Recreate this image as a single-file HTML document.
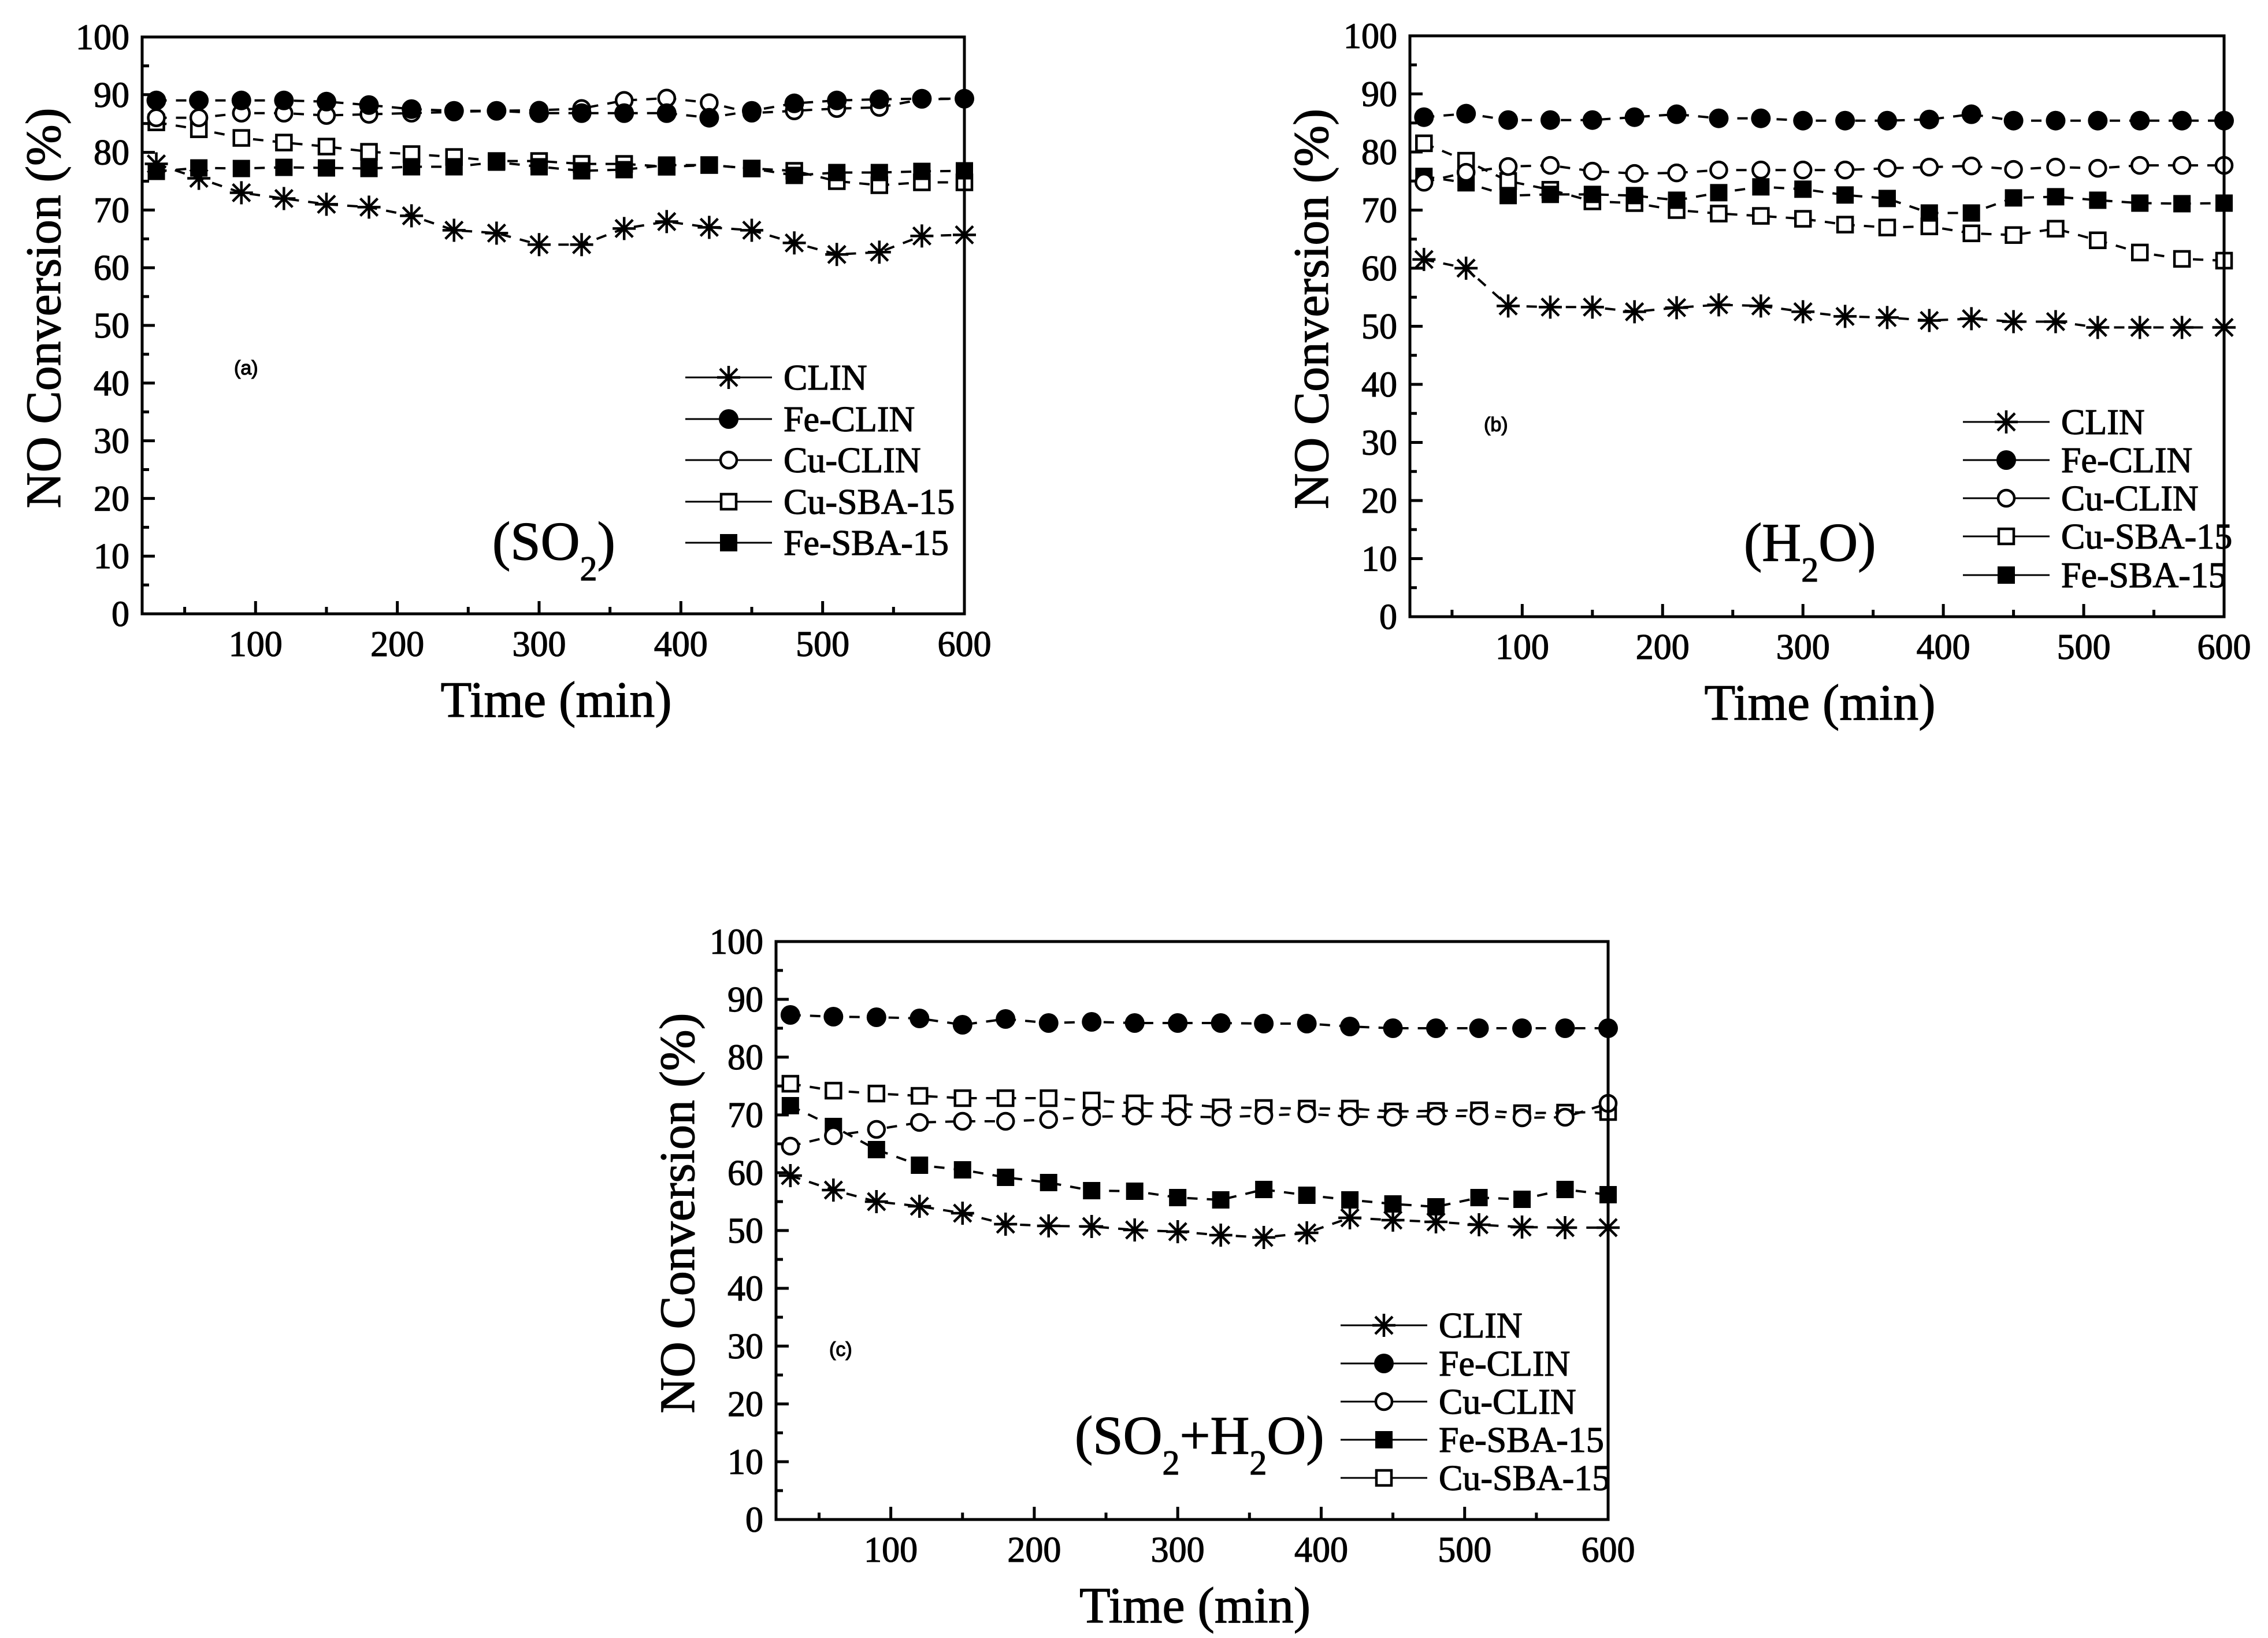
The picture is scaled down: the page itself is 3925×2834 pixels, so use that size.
<!DOCTYPE html>
<html><head><meta charset="utf-8"><style>
html,body{margin:0;padding:0;background:#fff;}
svg{display:block;font-family:"Liberation Serif",serif;}
svg text{stroke:#000;stroke-width:1.2px;}
</style></head><body>
<svg id="fig" xmlns="http://www.w3.org/2000/svg" width="3925" height="2834" viewBox="0 0 3925 2834">
<rect width="3925" height="2834" fill="#fff"/>
</svg>
<script>
const times = [30,60,90,120,150,180,210,240,270,300,330,360,390,420,450,480,510,540,570,600];
const yTicks = [0,10,20,30,40,50,60,70,80,90,100];
const xTicks = [100,200,300,400,500,600];

const aCLIN   = [78,75.5,73,72,71,70.5,69,66.5,66,64,64,66.8,68,67,66.5,64.3,62.3,62.7,65.5,65.7];
const aFeCLIN = [89,89,89,89,88.8,88.2,87.5,87.2,87.2,86.8,86.8,86.8,86.8,86,87.2,88.5,89,89.2,89.3,89.3];
const aCuCLIN = [86,86,86.8,86.8,86.4,86.6,86.8,87,87.2,87.3,87.6,89,89.4,88.6,86.8,87.2,87.6,87.8,89.2,89.3];
const aCuSBA  = [85.2,84,82.5,81.7,81,80.1,79.7,79.2,78.5,78.5,78,78,77.5,77.8,77.2,76.8,75,74.3,74.8,74.8];
const aFeSBA  = [76.7,77.3,77.2,77.4,77.3,77.2,77.5,77.5,78.3,77.5,76.8,77,77.8,77.8,77.2,76,76.5,76.5,76.7,76.8];

const bCLIN   = [61.5,60,53.5,53.3,53.3,52.5,53.2,53.7,53.5,52.5,51.7,51.5,51,51.3,50.8,50.8,49.8,49.8,49.8,49.8];
const bFeCLIN = [86,86.6,85.5,85.5,85.5,86,86.5,85.8,85.8,85.4,85.4,85.4,85.6,86.5,85.4,85.4,85.4,85.4,85.4,85.4];
const bCuCLIN = [74.8,76.5,77.5,77.7,76.7,76.3,76.4,76.9,76.9,76.9,76.9,77.2,77.4,77.6,77,77.4,77.2,77.7,77.7,77.7];
const bCuSBA  = [81.5,78.5,75,73.5,71.5,71.2,70,69.4,69,68.5,67.5,67,67.2,66,65.7,66.8,64.8,62.7,61.6,61.3];
const bFeSBA  = [75.8,74.7,72.5,72.7,72.7,72.5,71.7,73,74,73.6,72.6,72,69.5,69.5,72.1,72.3,71.7,71.2,71.1,71.2];

const cCLIN   = [59.5,57,55,54.2,53,51.1,50.8,50.7,50.1,49.8,49.2,48.8,49.6,52.2,51.8,51.5,51,50.6,50.5,50.5];
const cFeCLIN = [87.3,87,86.9,86.7,85.6,86.6,85.9,86.1,85.9,85.9,85.9,85.8,85.8,85.3,85,85,85,85,85,85];
const cCuCLIN = [64.6,66.4,67.5,68.7,68.9,68.9,69.2,69.7,69.8,69.7,69.6,69.9,70.2,69.7,69.6,69.8,69.8,69.5,69.6,72];
const cFeSBA  = [71.6,68,64,61.3,60.5,59.2,58.3,56.9,56.8,55.7,55.3,57.1,56.1,55.3,54.6,54.1,55.7,55.4,57.1,56.2];
const cCuSBA  = [75.4,74.2,73.7,73.3,72.9,72.9,72.9,72.5,72,72,71.3,71.2,71.1,71.1,70.6,70.7,70.8,70.3,70.4,70.5];

const NS = "http://www.w3.org/2000/svg";
const svg = document.getElementById('fig');
function mk(tag, attrs, parent){
  const e = document.createElementNS(NS, tag);
  for (const k in attrs) e.setAttribute(k, attrs[k]);
  (parent||svg).appendChild(e);
  return e;
}
function marker(g, type, cx, cy){
  let e;
  if (type==='star'){
    e = mk('path',{d:`M${cx-20},${cy}H${cx+20}M${cx},${cy-20}V${cy+20}M${cx-15},${cy-15}L${cx+15},${cy+15}M${cx-15},${cy+15}L${cx+15},${cy-15}`,stroke:'#000','stroke-width':4.5,fill:'none'},g);
  } else if (type==='fcircle'){
    e = mk('circle',{cx:cx,cy:cy,r:17,fill:'#000'},g);
  } else if (type==='ocircle'){
    e = mk('circle',{cx:cx,cy:cy,r:14,fill:'#fff',stroke:'#000','stroke-width':4.5},g);
  } else if (type==='osquare'){
    e = mk('rect',{x:cx-13,y:cy-13,width:26,height:26,fill:'#fff',stroke:'#000','stroke-width':4.5},g);
  } else {
    e = mk('rect',{x:cx-15,y:cy-15,width:30,height:30,fill:'#000'},g);
  }
  return e;
}

function panel(p){
  const g = mk('g',{});
  
  
  const xs = v => p.L + (v-20)/(600-20)*(p.R-p.L);
  const ys = v => p.B - v/100*(p.B-p.T);
  p.series.forEach(s=>{
    const sg = mk('g',{},g);
    
    
    const d = times.map((t,i)=>(i?'L':'M')+xs(t).toFixed(1)+','+ys(s.vals[i]).toFixed(1)).join('');
    const ln = mk('path',{d:d,fill:'none',stroke:'#000','stroke-width':4,'stroke-dasharray':'18 16'},sg);
    
    
    times.forEach((t,i)=>{
      const m = marker(sg, s.type, xs(t), ys(s.vals[i]));
      
      
    });
  });
  const fr = mk('rect',{x:p.L,y:p.T,width:p.R-p.L,height:p.B-p.T,fill:'none',stroke:'#000','stroke-width':5},g);
  
  
  for (let v=5; v<100; v+=5){
    const len = (v%10===0)?22:12;
    mk('line',{x1:p.L,x2:p.L+len,y1:ys(v),y2:ys(v),stroke:'#000','stroke-width':5},g);
  }
  yTicks.forEach(v=>{
    const t = mk('text',{x:p.L-22,y:ys(v)+21,'font-size':62,'text-anchor':'end'},g);
    t.textContent = v;
    
    
  });
  for (let v=50; v<600; v+=50){
    const len = (v%100===0)?22:12;
    mk('line',{x1:xs(v),x2:xs(v),y1:p.B,y2:p.B-len,stroke:'#000','stroke-width':5},g);
  }
  xTicks.forEach(v=>{
    const t = mk('text',{x:xs(v),y:p.B+73,'font-size':62,'text-anchor':'middle'},g);
    t.textContent = v;
    
    
  });
  const xt = mk('text',{x:(p.L+p.R)/2+5,y:p.B+178,'font-size':88,'text-anchor':'middle'},g);
  xt.textContent = 'Time (min)';
  
  
  const yc = (p.T+p.B)/2-30;
  const yt = mk('text',{x:0,y:0,'font-size':86,'text-anchor':'middle',transform:`translate(${p.L-142},${yc}) rotate(-90)`},g);
  yt.textContent = 'NO Conversion (%)';
  
  
  const lg = mk('g',{},g);
  
  
  p.legend.forEach((s,i)=>{
    const y = p.legY[i];
    const eg = mk('g',{},lg);
    
    
    mk('line',{x1:p.legX,x2:p.legX+150,y1:y,y2:y,stroke:'#000','stroke-width':3},eg);
    marker(eg, s.type, p.legX+75, y);
    const t = mk('text',{x:p.legX+170,y:y+21,'font-size':62},eg);
    t.textContent = s.label;
  });
  const cl = mk('text',{x:p.condX,y:p.condY,'font-size':94},g);
  
  
  p.cond.forEach(part=>{
    const ts = mk('tspan',{},cl);
    if (part.sub){ ts.setAttribute('font-size',60); ts.setAttribute('dy',36); }
    else if (part.after){ ts.setAttribute('dy',-36); }
    ts.textContent = part.t;
  });
  const pl = mk('text',{x:p.tagX,y:p.tagY,'font-size':34,'font-family':'Liberation Sans, sans-serif','stroke-width':0},g);
  pl.textContent = p.tag;
  
  
}

const legA = [{label:'CLIN',type:'star'},{label:'Fe-CLIN',type:'fcircle'},{label:'Cu-CLIN',type:'ocircle'},{label:'Cu-SBA-15',type:'osquare'},{label:'Fe-SBA-15',type:'fsquare'}];
const legC = [{label:'CLIN',type:'star'},{label:'Fe-CLIN',type:'fcircle'},{label:'Cu-CLIN',type:'ocircle'},{label:'Fe-SBA-15',type:'fsquare'},{label:'Cu-SBA-15',type:'osquare'}];

panel({name:'panel-a-so2',L:246,R:1669,T:64,B:1062,
  series:[{id:'cu-sba15',type:'osquare',vals:aCuSBA},{id:'fe-sba15',type:'fsquare',vals:aFeSBA},{id:'clin',type:'star',vals:aCLIN},{id:'cu-clin',type:'ocircle',vals:aCuCLIN},{id:'fe-clin',type:'fcircle',vals:aFeCLIN}],
  legend:legA,legX:1186,legY:[653,725,796,868,939],
  cond:[{t:'(SO'},{t:'2',sub:true},{t:')',after:true}],condX:852,condY:968,tag:'(a)',tagX:405,tagY:648});
panel({name:'panel-b-h2o',L:2440,R:3849,T:62,B:1067,
  series:[{id:'cu-sba15',type:'osquare',vals:bCuSBA},{id:'fe-sba15',type:'fsquare',vals:bFeSBA},{id:'clin',type:'star',vals:bCLIN},{id:'cu-clin',type:'ocircle',vals:bCuCLIN},{id:'fe-clin',type:'fcircle',vals:bFeCLIN}],
  legend:legA,legX:3397,legY:[730,796,862,928,995],
  cond:[{t:'(H'},{t:'2',sub:true},{t:'O)',after:true}],condX:3018,condY:970,tag:'(b)',tagX:2568,tagY:746});
panel({name:'panel-c-so2-h2o',L:1343,R:2783,T:1629,B:2629,
  series:[{id:'cu-sba15',type:'osquare',vals:cCuSBA},{id:'fe-sba15',type:'fsquare',vals:cFeSBA},{id:'clin',type:'star',vals:cCLIN},{id:'cu-clin',type:'ocircle',vals:cCuCLIN},{id:'fe-clin',type:'fcircle',vals:cFeCLIN}],
  legend:legC,legX:2320,legY:[2293,2359,2425,2491,2557],
  cond:[{t:'(SO'},{t:'2',sub:true},{t:'+H',after:true},{t:'2',sub:true},{t:'O)',after:true}],condX:1860,condY:2515,tag:'(c)',tagX:1435,tagY:2346});
</script>
</body></html>
